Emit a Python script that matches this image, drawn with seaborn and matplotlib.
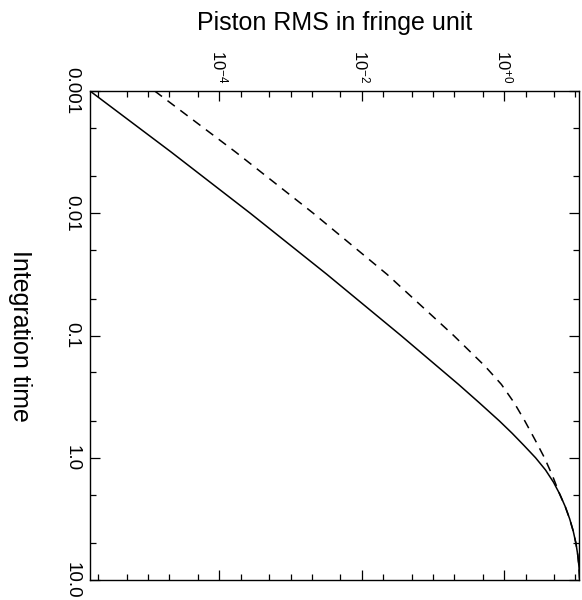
import matplotlib
matplotlib.use("Agg")
import matplotlib.pyplot as plt
import matplotlib.ticker as mticker
import seaborn as sns
import pandas as pd

# values: integration time vs piston rms (fringes)
solid_time = [0.001, 0.00316, 0.01, 0.0316, 0.1, 0.251, 0.355, 0.501, 0.631,
              0.794, 1.0, 1.259, 1.585, 1.995, 2.512, 3.162, 3.981, 5.012,
              6.310, 7.943, 10.0]
solid_rms = [1.531e-6, 2.113e-5, 2.723e-4, 3.236e-3, 0.03548, 0.2280, 0.4467,
             0.8590, 1.294, 1.897, 2.754, 3.802, 4.920, 6.053, 7.194, 8.299,
             9.311, 10.16, 10.81, 11.25, 11.46]
dashed_time = [0.001, 0.00316, 0.01, 0.0316, 0.1, 0.178, 0.251, 0.355, 0.501,
               0.708, 1.0, 1.413, 1.995, 2.512, 3.162, 3.981, 5.012, 6.310,
               7.943, 10.0]
dashed_rms = [1.239e-5, 1.698e-4, 2.089e-3, 0.02265, 0.1950, 0.5370, 0.9120,
              1.380, 1.950, 2.692, 3.673, 4.786, 6.026, 7.194, 8.299, 9.311,
              10.16, 10.81, 11.25, 11.46]

time_ticks = [0.001, 0.01, 0.1, 1.0, 10.0]
time_labels = ["0.001", "0.01", "0.1", "1.0", "10.0"]
rms_ticks = [1e-4, 1e-2, 1e0]
rms_labels = [r"$10^{-4}$", r"$10^{-2}$", r"$10^{+0}$"]

df = pd.concat([
    pd.DataFrame({"time": solid_time, "rms": solid_rms, "curve": "solid"}),
    pd.DataFrame({"time": dashed_time, "rms": dashed_rms, "curve": "dashed"}),
], ignore_index=True)

sns.set_style("ticks")
plt.rcParams["font.family"] = ["Liberation Sans", "DejaVu Sans"]
plt.rcParams["mathtext.fontset"] = "custom"
plt.rcParams["mathtext.rm"] = "Liberation Sans"
plt.rcParams["mathtext.default"] = "regular"
plt.rcParams["text.color"] = "black"
plt.rcParams["axes.labelcolor"] = "black"
plt.rcParams["xtick.color"] = "black"
plt.rcParams["ytick.color"] = "black"

fig = plt.figure(figsize=(5.82, 6.0), dpi=100)
ax = fig.add_axes([90 / 582, 20 / 600, 489 / 582, 489 / 600])
ax.set_xscale("log")
ax.set_yscale("log")

sns.lineplot(
    data=df, x="rms", y="time", style="curve", style_order=["solid", "dashed"],
    dashes={"solid": "", "dashed": (6, 4.5)}, color="black", linewidth=1.1,
    sort=False, estimator=None, legend=False, ax=ax,
)

ax.set_xlim(10 ** -5.815, 10 ** 1.05)
ax.set_ylim(10.0, 0.001)

# top axis: rms, majors every two decades, minors at 1-2-5
ax.xaxis.set_major_locator(mticker.FixedLocator(rms_ticks))
ax.xaxis.set_major_formatter(mticker.FixedFormatter(rms_labels))
ax.xaxis.set_minor_locator(mticker.LogLocator(base=10, subs=(1.0, 2.0, 5.0), numticks=60))
ax.xaxis.set_minor_formatter(mticker.NullFormatter())
ax.xaxis.tick_top()
ax.xaxis.set_label_position("top")

# left axis: integration time
ax.yaxis.set_major_locator(mticker.FixedLocator(time_ticks))
ax.yaxis.set_major_formatter(mticker.FixedFormatter(time_labels))
ax.yaxis.set_minor_locator(mticker.LogLocator(base=10, subs=(2.0, 5.0), numticks=60))
ax.yaxis.set_minor_formatter(mticker.NullFormatter())

ax.tick_params(which="both", direction="in", top=True, bottom=True, left=True, right=True,
               color="black", width=0.9, labelcolor="black")
ax.tick_params(which="major", length=7)
ax.tick_params(which="minor", length=4)
ax.tick_params(axis="x", labeltop=True, labelbottom=False, labelrotation=-90, labelsize=12, pad=5.5)
ax.tick_params(axis="y", labelleft=True, labelright=False, labelrotation=-90, labelsize=13.5, pad=7)
for lab in ax.get_yticklabels():
    lab.set_va("center")

for sp in ax.spines.values():
    sp.set_color("black")
    sp.set_linewidth(1.0)

ax.set_xlabel("Piston RMS in fringe unit", fontsize=18, color="black")
ax.xaxis.label.set_va("baseline")
ax.xaxis.set_label_coords(0.5, (580 - 30) / 489)
ax.set_ylabel("Integration time", fontsize=18, rotation=-90, va="center", ha="center", color="black")
ax.yaxis.set_label_coords(-70 / 489, 0.5)

fig.savefig("out.png", dpi=100)
plt.close(fig)
